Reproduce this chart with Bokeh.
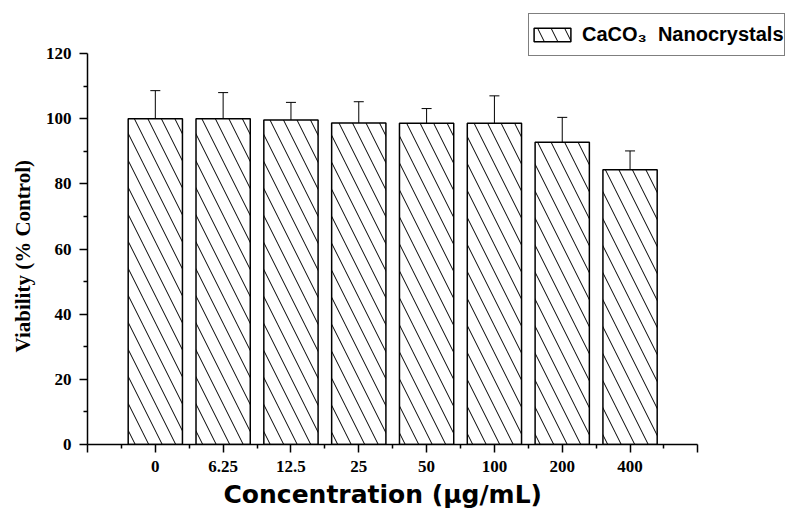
from bokeh.plotting import figure
from bokeh.models import (ColumnDataSource, Whisker, TeeHead, FixedTicker, Range1d,
                          Legend, LegendItem, Title)
from bokeh.embed import file_html
from bokeh.resources import INLINE

# ---- data ----
concentrations = ["0", "6.25", "12.5", "25", "50", "100", "200", "400"]
viability = [100.0, 100.0, 99.6, 98.7, 98.6, 98.6, 92.8, 84.3]
viability_sd = [8.6, 8.0, 5.4, 6.5, 4.5, 8.4, 7.6, 5.8]
y_ticks = [0, 20, 40, 60, 80, 100, 120]
y_minor_ticks = [10, 30, 50, 70, 90, 110]
series_label = "CaCO\u2083  Nanocrystals"
x_title = "Concentration (\u00b5g/mL)"
y_title = "Viability (% Control)"

# ---- layout (pixels) ----
W, H = 785, 512
AX_LEFT, AX_RIGHT, AX_TOP, AX_BOTTOM = 84, 697, 53, 444   # axes box in the picture
n = len(concentrations)
y_lo, y_hi = 0, 120
x_lo, x_hi = -1, n
# the plotting frame spans up to the top/right edge of the canvas so the legend
# (which sits above / right of the axes box) is not clipped; axes are bounded.
y_top = y_hi * (AX_BOTTOM - 0) / (AX_BOTTOM - AX_TOP)
x_right = x_lo + (x_hi - x_lo) * (W - AX_LEFT) / (AX_RIGHT - AX_LEFT)

xpos = list(range(n))
src = ColumnDataSource(dict(
    x=xpos,
    top=viability,
    upper=[v + e for v, e in zip(viability, viability_sd)],
    lower=[v - e for v, e in zip(viability, viability_sd)],
))

p = figure(width=W, height=H, output_backend="svg", toolbar_location=None,
           x_range=Range1d(x_lo, x_right), y_range=Range1d(y_lo, y_top),
           min_border_left=AX_LEFT, min_border_right=0, min_border_top=0,
           min_border_bottom=H - AX_BOTTOM)
p.outline_line_color = None
p.xgrid.grid_line_color = None
p.ygrid.grid_line_color = None
p.background_fill_color = "white"
p.border_fill_color = "white"

bars = p.vbar(x="x", top="top", width=0.8, source=src,
              fill_color="white", line_color="black", line_width=1.5,
              hatch_pattern="\\", hatch_color="black", hatch_weight=1,
              hatch_scale=27)

whisk = Whisker(base="x", upper="upper", lower="lower", source=src,
                line_color="black", line_width=1,
                upper_head=TeeHead(size=10, line_color="black", line_width=1),
                lower_head=TeeHead(size=10, line_color="black", line_width=1))
p.add_layout(whisk)

# x axis
xa = p.xaxis[0]
xa.bounds = (x_lo, x_hi)
xa.ticker = FixedTicker(ticks=list(range(x_lo, x_hi + 1)),
                        minor_ticks=[i + 0.5 for i in range(x_lo, x_hi)])
overrides = {i: c for i, c in enumerate(concentrations)}
overrides[x_lo] = ""
overrides[x_hi] = ""
xa.major_label_overrides = overrides
xa.major_label_text_font = "Liberation Serif"
xa.major_label_text_font_style = "bold"
xa.major_label_text_font_size = "17px"
xa.major_label_standoff = 8

# y axis
ya = p.yaxis[0]
ya.bounds = (y_lo, y_hi)
ya.ticker = FixedTicker(ticks=y_ticks, minor_ticks=y_minor_ticks)
ya.major_label_text_font = "Liberation Serif"
ya.major_label_text_font_style = "bold"
ya.major_label_text_font_size = "17px"
ya.major_label_standoff = 8

for ax in (xa, ya):
    ax.axis_line_color = "black"
    ax.axis_line_width = 1.5
    ax.major_tick_line_color = "black"
    ax.major_tick_line_width = 1.5
    ax.minor_tick_line_color = "black"
    ax.minor_tick_line_width = 1.5
    ax.major_tick_in = 0
    ax.major_tick_out = 8
    ax.minor_tick_in = 0
    ax.minor_tick_out = 4
    ax.major_label_text_color = "black"

# axis titles (as titles so they can be placed along the bounded axes)
xt = Title(text=x_title, align="left", offset=220 - AX_LEFT, standoff=7,
           text_font="DejaVu Sans", text_font_style="bold",
           text_font_size="25px", text_color="black")
p.add_layout(xt, "below")
yt = Title(text=y_title, align="left", offset=AX_BOTTOM - 352, standoff=16,
           text_font="Liberation Serif", text_font_style="bold",
           text_font_size="21px", text_color="black")
p.add_layout(yt, "left")

legend = Legend(items=[LegendItem(label=series_label, renderers=[bars])],
                location=(525 - AX_LEFT, AX_BOTTOM - 56), margin=0, padding=0,
                glyph_width=46, glyph_height=17, label_height=41,
                label_standoff=7,
                label_text_font="Liberation Sans", label_text_font_style="bold",
                label_text_font_size="20px", label_text_color="black",
                border_line_color="black", border_line_width=1,
                background_fill_color="white", background_fill_alpha=1)
p.add_layout(legend)

open("out.html", "w").write(file_html(p, INLINE))
